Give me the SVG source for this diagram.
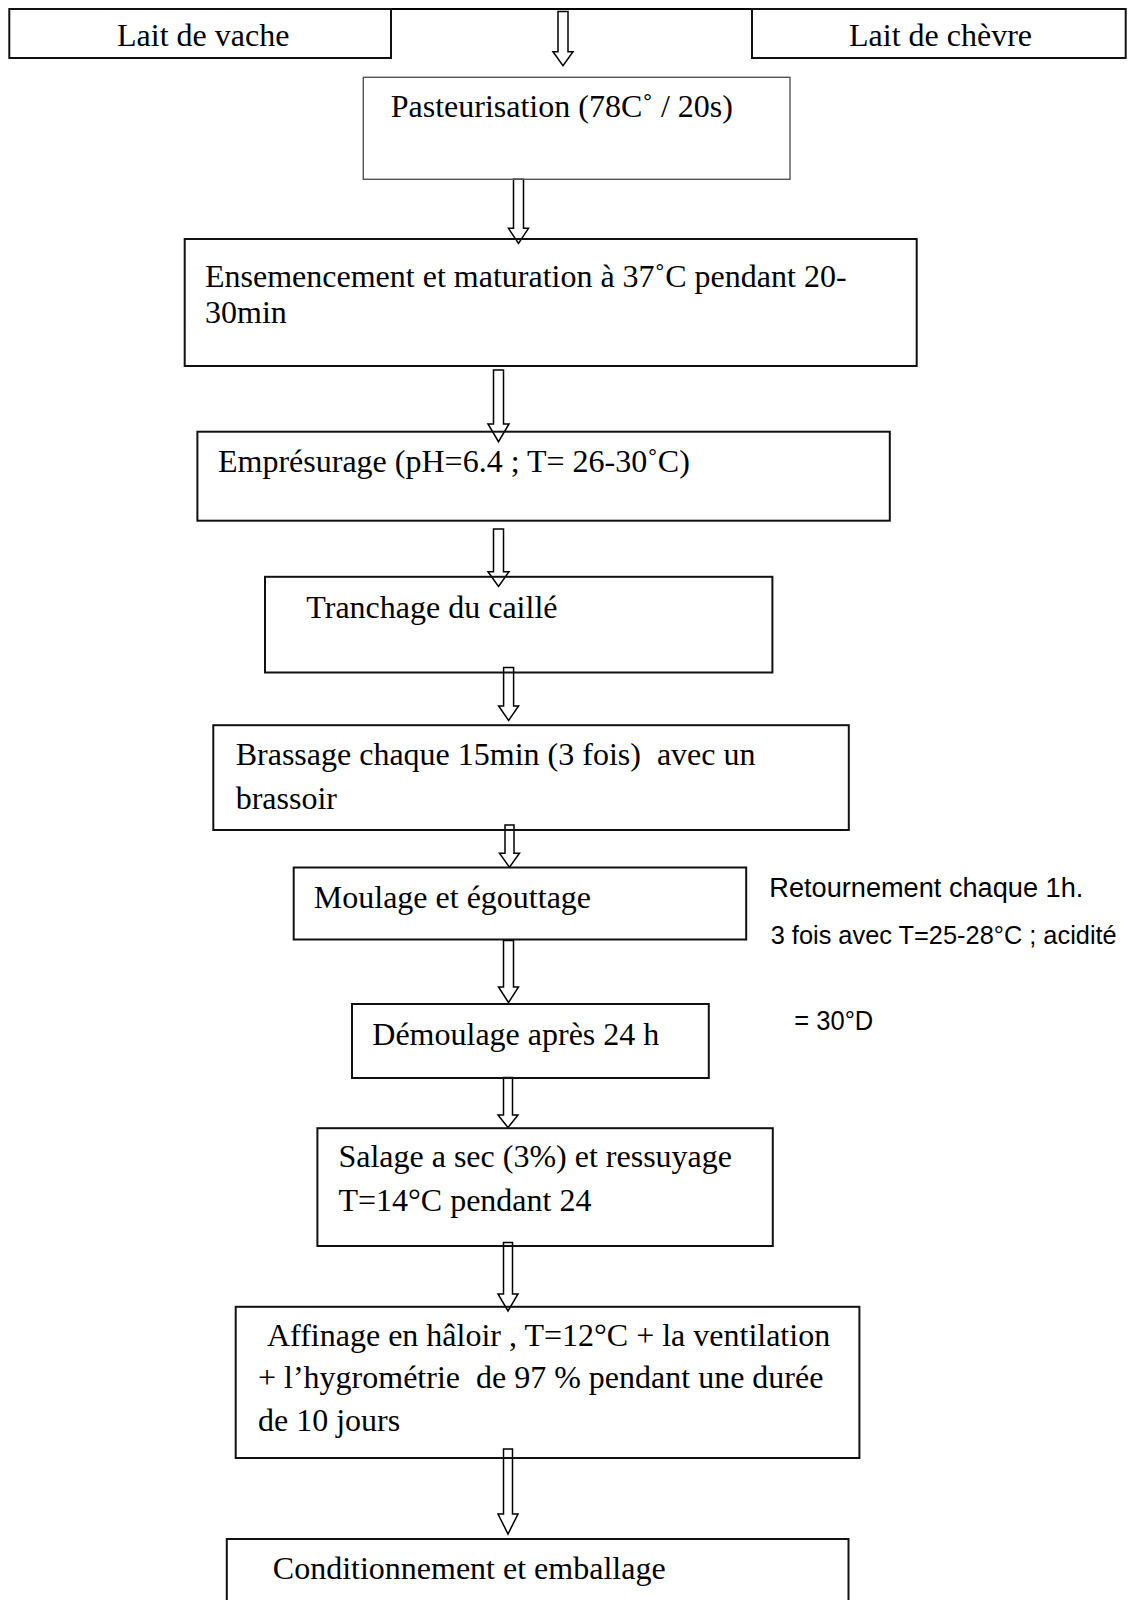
<svg xmlns="http://www.w3.org/2000/svg" width="1134" height="1600" viewBox="0 0 1134 1600">
<style>
  .bg { fill: #ffffff; }
  .box { fill: none; stroke: #111; stroke-width: 2; }
  .boxthin { fill: none; stroke: #555; stroke-width: 1.4; }
  .t { font-family: "Liberation Serif", "Times New Roman", serif; font-size: 32px; fill: #000; white-space: pre; }
  .s { font-family: "Liberation Sans", Arial, sans-serif; font-size: 27px; fill: #000; white-space: pre; }
  .arrow { fill: #fff; stroke: #000; stroke-width: 1.5; stroke-linejoin: miter; }
  .line { stroke: #000; stroke-width: 2.2; fill: none; }
</style>
<rect class="bg" x="0" y="0" width="1134" height="1600"/>

<g id="connectors">
  <line class="line" x1="9.3" y1="9" x2="1125.7" y2="9"/>
  <path class="arrow" d="M558,11.5 L568,11.5 L568,51.7 L573,51.7 L563,65.7 L553,51.7 L558,51.7 Z"/>
  <path class="arrow" d="M513.5,179.3 L523.5,179.3 L523.5,228.3 L528.5,228.3 L518.5,243.5 L508.5,228.3 L513.5,228.3 Z"/>
  <path class="arrow" d="M493.5,370 L503.5,370 L503.5,424 L509,424 L498.5,441.7 L488,424 L493.5,424 Z"/>
  <path class="arrow" d="M493.5,529 L503.5,529 L503.5,571.7 L509,571.7 L498.5,586.5 L488,571.7 L493.5,571.7 Z"/>
  <path class="arrow" d="M503.6,667.4 L513.6,667.4 L513.6,706 L518.6,706 L508.6,720.4 L498.6,706 L503.6,706 Z"/>
  <path class="arrow" d="M505,825 L514,825 L514,853.3 L519.5,853.3 L509.5,867.3 L499.5,853.3 L505,853.3 Z"/>
  <path class="arrow" d="M503.5,940.5 L513.5,940.5 L513.5,987 L518.5,987 L508.5,1002.5 L498.5,987 L503.5,987 Z"/>
  <path class="arrow" d="M503.5,1077.5 L512.5,1077.5 L512.5,1115 L518,1115 L508,1127.5 L498,1115 L503.5,1115 Z"/>
  <path class="arrow" d="M503.5,1242.5 L512.5,1242.5 L512.5,1294 L518,1294 L508,1311 L498,1294 L503.5,1294 Z"/>
  <path class="arrow" d="M503.5,1449 L512.5,1449 L512.5,1514 L518,1514 L508,1534 L498,1514 L503.5,1514 Z"/>
</g>

<g id="lait-vache">
  <rect class="box" x="9.3" y="9" width="381.7" height="49"/>
  <text class="t" x="117" y="46">Lait de vache</text>
</g>
<g id="lait-chevre">
  <rect class="box" x="752" y="9" width="373.7" height="49"/>
  <text class="t" x="849" y="46">Lait de chèvre</text>
</g>
<g id="pasteurisation">
  <rect class="boxthin" x="363.3" y="77.3" width="426.7" height="102"/>
  <text class="t" x="390.7" y="116.7">Pasteurisation (78C˚ / 20s)</text>
</g>
<g id="ensemencement">
  <rect class="box" x="184.7" y="239" width="732" height="127"/>
  <text class="t" x="205" y="287">Ensemencement et maturation à 37˚C pendant 20-</text>
  <text class="t" x="205" y="323">30min</text>
</g>
<g id="empresurage">
  <rect class="box" x="197.4" y="431.7" width="692.4" height="89"/>
  <text class="t" x="218" y="471.7">Emprésurage (pH=6.4 ; T= 26-30˚C)</text>
</g>
<g id="tranchage">
  <rect class="box" x="265" y="576.8" width="507.4" height="95.7"/>
  <text class="t" x="306.3" y="618">Tranchage du caillé</text>
</g>
<g id="brassage">
  <rect class="box" x="213.3" y="725.2" width="635.5" height="104.8"/>
  <text class="t" x="235.7" y="764.5">Brassage chaque 15min (3 fois)  avec un</text>
  <text class="t" x="235.7" y="808.6">brassoir</text>
</g>
<g id="moulage">
  <rect class="box" x="293.7" y="867.5" width="452.5" height="72"/>
  <text class="t" x="313.8" y="908.4">Moulage et égouttage</text>
</g>
<g id="note-retournement">
  <text class="s" x="769.3" y="896.7" textLength="314" lengthAdjust="spacingAndGlyphs">Retournement chaque 1h.</text>
  <text class="s" x="770.7" y="944" style="font-size:25px" textLength="346" lengthAdjust="spacingAndGlyphs">3 fois avec T=25-28°C ; acidité</text>
  <text class="s" x="794.3" y="1030" textLength="79" lengthAdjust="spacingAndGlyphs">= 30°D</text>
</g>
<g id="demoulage">
  <rect class="box" x="352" y="1004" width="356.8" height="74"/>
  <text class="t" x="372.3" y="1045">Démoulage après 24 h</text>
</g>
<g id="salage">
  <rect class="box" x="317.4" y="1128.2" width="455.4" height="117.8"/>
  <text class="t" x="338.4" y="1166.8">Salage a sec (3%) et ressuyage</text>
  <text class="t" x="338.4" y="1210.7">T=14°C pendant 24</text>
</g>
<g id="affinage">
  <rect class="box" x="235.7" y="1306.8" width="623.7" height="151.2"/>
  <text class="t" x="267" y="1346.4">Affinage en hâloir , T=12°C + la ventilation</text>
  <text class="t" x="258" y="1388">+ l’hygrométrie  de 97 % pendant une durée</text>
  <text class="t" x="258" y="1431">de 10 jours</text>
</g>
<g id="conditionnement">
  <rect class="box" x="226.8" y="1539" width="621.7" height="90"/>
  <text class="t" x="272.8" y="1578.5">Conditionnement et emballage</text>
</g>
</svg>
